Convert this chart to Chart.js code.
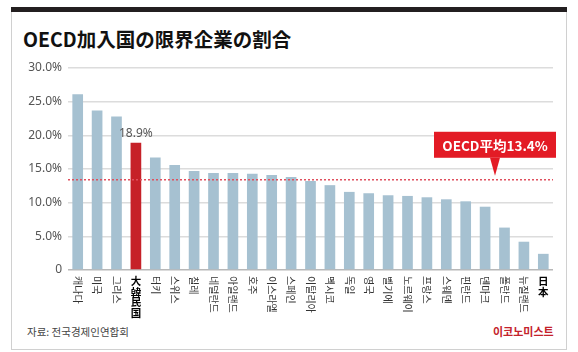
<!DOCTYPE html>
<html>
<head>
<meta charset="utf-8">
<script src="https://cdn.jsdelivr.net/npm/chart.js@4"></script>
<style>
  body { margin: 0; background: #fff; }
  #wrap { position: relative; width: 578px; height: 352px; overflow: hidden; font-family: "Noto Sans CJK KR", sans-serif; }
  #topbar { position: absolute; left: 11px; top: 7px; width: 556px; height: 5px; background: #231f20; }
  #card { position: absolute; left: 11px; top: 12px; width: 554px; height: 337px; border: 1px solid #d0d0d0; border-top: none; }
  #title { position: absolute; left: 23px; top: 24px; font-family: "Noto Sans CJK JP", sans-serif; font-weight: bold; font-size: 19.5px; color: #111; }
  #source { position: absolute; left: 27px; top: 324px; font-size: 10.5px; color: #444; }
  #brand { position: absolute; left: 493px; top: 323px; font-size: 11px; font-weight: bold; color: #c4222b; }
  canvas { position: absolute; left: 0; top: 0; }
</style>
</head>
<body>
<div id="wrap">
  <div id="topbar"></div>
  <div id="card"></div>
  <div id="title">OECD加入国の限界企業の割合</div>
  <div id="source">자료: 전국경제인연합회</div>
  <div id="brand">이코노미스트</div>
  <canvas id="chart" width="578" height="352"></canvas>
</div>
<script>
// 국가 목록
const countries = [
  '캐나다', '미국', '그리스', '大韓民国', '터키', '스위스', '칠레', '네덜란드', '아일랜드', '호주',
  '이스라엘', '스페인', '이탈리아', '멕시코', '독일', '영국', '벨기에', '노르웨이', '프랑스', '스웨덴',
  '핀란드', '덴마크', '폴란드', '뉴질랜드', '日本'
];
// 한계기업 비율 (%)
const shares = [
  26.1, 23.7, 22.8, 18.9, 16.7, 15.6, 14.7, 14.4, 14.4, 14.3,
  14.1, 13.8, 13.2, 12.6, 11.6, 11.4, 11.1, 11.0, 10.8, 10.5,
  10.2, 9.4, 6.3, 4.2, 2.4
];
const uprightLabels = ['大韓民国', '日本']; // 세로로 쌓아 쓰는 라벨
const highlight = '大韓民国';
const oecdAverage = 13.4;
const averageText = 'OECD平均13.4%';
const yTicks = [0, 5, 10, 15, 20, 25, 30];

const barColors = countries.map(c => c === highlight ? '#c62128' : '#a6c1d1');

const extrasPlugin = {
  id: 'extras',
  afterDatasetsDraw(chart) {
    const ctx = chart.ctx;
    const xs = chart.scales.x;
    const ys = chart.scales.y;
    const area = chart.chartArea;

    // OECD 평균선
    const yAvg = ys.getPixelForValue(oecdAverage);
    ctx.save();
    ctx.strokeStyle = '#e0505e';
    ctx.lineWidth = 1.5;
    ctx.setLineDash([2, 2]);
    ctx.beginPath();
    ctx.moveTo(area.left, yAvg);
    ctx.lineTo(area.right, yAvg);
    ctx.stroke();
    ctx.restore();

    // 평균 말풍선
    const cx = area.right - 58;
    const tipY = yAvg - 4;
    const boxBottom = tipY - 18;
    const boxTop = boxBottom - 26;
    const boxW = 122;
    ctx.save();
    ctx.fillStyle = '#e31b25';
    ctx.fillRect(cx - boxW / 2, boxTop, boxW, boxBottom - boxTop);
    ctx.beginPath();
    ctx.moveTo(cx - 5, boxBottom);
    ctx.lineTo(cx + 5, boxBottom);
    ctx.lineTo(cx, tipY);
    ctx.closePath();
    ctx.fill();
    ctx.fillStyle = '#fff';
    ctx.font = 'bold 13.5px "Noto Sans CJK JP", sans-serif';
    ctx.textAlign = 'center';
    ctx.textBaseline = 'middle';
    ctx.fillText(averageText, cx, (boxTop + boxBottom) / 2 + 1);
    ctx.restore();

    // 한국 막대 값
    const hi = countries.indexOf(highlight);
    ctx.save();
    ctx.fillStyle = '#555';
    ctx.font = '12px "Noto Sans", sans-serif';
    ctx.textAlign = 'center';
    ctx.textBaseline = 'bottom';
    ctx.fillText(shares[hi].toFixed(1) + '%', xs.getPixelForValue(hi), ys.getPixelForValue(shares[hi]) - 3);
    ctx.restore();

    // x축 라벨
    countries.forEach((label, i) => {
      const x = xs.getPixelForValue(i);
      const y0 = area.bottom + 6;
      ctx.save();
      if (uprightLabels.includes(label)) {
        ctx.fillStyle = '#000';
        ctx.font = 'bold 10.5px "Noto Sans CJK JP", sans-serif';
        ctx.textAlign = 'center';
        ctx.textBaseline = 'top';
        [...label].forEach((ch, k) => ctx.fillText(ch, x, y0 + k * 10.5));
      } else {
        ctx.fillStyle = '#333';
        ctx.font = '10px "Noto Sans CJK KR", sans-serif';
        ctx.translate(x, y0);
        ctx.rotate(Math.PI / 2);
        ctx.textAlign = 'left';
        ctx.textBaseline = 'middle';
        ctx.fillText(label, 0, 0);
      }
      ctx.restore();
    });
  }
};

new Chart(document.getElementById('chart'), {
  type: 'bar',
  data: {
    labels: countries,
    datasets: [{
      data: shares,
      backgroundColor: barColors,
      barPercentage: 0.55,
      categoryPercentage: 1
    }]
  },
  options: {
    responsive: false,
    animation: false,
    layout: { padding: { left: 0, right: 25, top: 68, bottom: 82 } },
    plugins: { legend: { display: false }, tooltip: { enabled: false } },
    scales: {
      x: { display: false },
      y: {
        min: 0,
        max: 30,
        afterFit(scale) { scale.width = 68; },
        afterBuildTicks(scale) { scale.ticks = yTicks.map(v => ({ value: v })); },
        ticks: {
          padding: 6,
          color: '#555',
          font: { family: '"Noto Sans", sans-serif', size: 12 },
          callback: v => v === 0 ? '0' : v.toFixed(1) + '%'
        },
        grid: {
          drawTicks: false,
          lineWidth: 1.5,
          color: c => c.tick && c.tick.value === 0 ? '#b8b8b8' : '#dcdcdc'
        },
        border: { display: false }
      }
    }
  },
  plugins: [extrasPlugin]
});
</script>
</body>
</html>
